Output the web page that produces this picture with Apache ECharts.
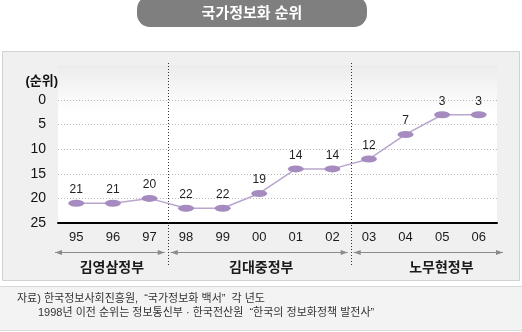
<!DOCTYPE html>
<html><head><meta charset="utf-8">
<script src="https://cdn.jsdelivr.net/npm/echarts@6/dist/echarts.min.js"></script>
<style>html,body{margin:0;padding:0;background:#fff}#c{width:522px;height:332px}</style>
</head><body><div id="c"></div>
<script>
const years = ['95','96','97','98','99','00','01','02','03','04','05','06'];
const ranks = [21,21,20,22,22,19,14,14,12,7,3,3];
const yMin = 0, yMax = 25, yStep = 5;
const governments = ['김영삼정부','김대중정부','노무현정부'];
const govStart = [0,3,8];
const govEnd = [2,7,11];
const titleText = '국가정보화 순위';
const yName = '(순위)';
const notes = ['자료) 한국정보사회진흥원,  “국가정보화 백서”  각 년도', '1998년 이전 순위는 정보통신부 · 한국전산원  “한국의 정보화정책 발전사”'];

const FONT = '"Liberation Sans", Arial, "Noto Sans CJK KR", sans-serif';
const chart = echarts.init(document.getElementById('c'), null, {renderer:'canvas'});
const G = {left:58, right:25, top:100, bottom:109};

chart.setOption({
  animation:false,
  textStyle:{fontFamily:FONT},
  grid:{left:G.left, right:G.right, top:G.top, bottom:G.bottom, containLabel:false},
  xAxis:{type:'category', data:years, boundaryGap:true, position:'bottom',
    axisLine:{onZero:false, lineStyle:{color:'#000', width:2}},
    axisTick:{inside:true, length:5, lineStyle:{color:'#000', width:2}},
    axisLabel:{color:'#1a1a1a', fontSize:13, margin:8, fontFamily:FONT},
    splitLine:{show:false}},
  yAxis:{type:'value', inverse:true, min:yMin, max:yMax, interval:yStep,
    axisLine:{show:false}, axisTick:{show:false},
    axisLabel:{color:'#111', fontSize:14, margin:12, fontFamily:FONT},
    splitLine:{lineStyle:{color:'#b8b8b8', type:[1,2], width:1}}},
  series:[{type:'line', data:ranks, z:5,
    symbol:'path://M0,5 A10,5 0 1,1 20,5 A10,5 0 1,1 0,5 Z', symbolSize:[16,7],
    itemStyle:{color:'#a58bbf'},
    lineStyle:{color:'#b9a6cd', width:1.5},
    label:{show:true, position:'top', distance:4, color:'#222', fontSize:12, fontFamily:FONT}}]
});

const px = i => chart.convertToPixel({xAxisIndex:0}, i);
const bw = px(1) - px(0);
const bound = i => px(i) - bw/2;
const yTop = chart.convertToPixel({yAxisIndex:0}, yMin);
const yBot = chart.convertToPixel({yAxisIndex:0}, yMax);
const gx0 = bound(0), gx1 = bound(years.length);

const g = [];
g.push({type:'rect', z:-10, shape:{x:2.5, y:51.5, width:517, height:229}, style:{fill:'#f0f0f0', stroke:'#d2d2d2', lineWidth:1}});
g.push({type:'rect', z:-9, shape:{x:gx0, y:65, width:gx1-gx0, height:yBot-65},
  style:{fill:new echarts.graphic.LinearGradient(0,0,0,1,[{offset:0,color:'#ececec'},{offset:0.3,color:'#ffffff'},{offset:1,color:'#ffffff'}])}});
g.push({type:'rect', z:-10, shape:{x:-1, y:286.5, width:524, height:44}, style:{fill:'#f3f3f3', stroke:'#d8d8d8', lineWidth:1}});
notes.forEach((t,i)=>g.push({type:'text', x: i===0?17:38, y: i===0?299:313, style:{text:t, fill:'#333', font:'11px '+FONT, textVerticalAlign:'middle'}}));
g.push({type:'rect', shape:{x:137, y:-4, width:230, height:31, r:13}, style:{fill:'#7f7f7f'}});
g.push({type:'text', x:252, y:14, style:{text:titleText, fill:'#fff', font:'bold 15px '+FONT, textAlign:'center', textVerticalAlign:'middle'}});
g.push({type:'text', x:gx0, y:81, style:{text:yName, fill:'#111', font:'bold 13px '+FONT, textAlign:'right', textVerticalAlign:'middle'}});
for (let k=0;k<governments.length-1;k++){
  const x = Math.round(bound(govStart[k+1]))+0.5;
  g.push({type:'line', z:3, shape:{x1:x, y1:63, x2:x, y2:265}, style:{stroke:'#333', lineWidth:1, lineDash:[1,2]}});
}
const AY = 252.5;
governments.forEach((name,k)=>{
  const L = bound(govStart[k]), R = bound(govEnd[k]+1);
  const x1 = k===0 ? L-3 : L+3;
  const x2 = k===governments.length-1 ? R+6 : R-3;
  g.push({type:'line', shape:{x1:x1, y1:AY, x2:x2, y2:AY}, style:{stroke:'#8a8a8a', lineWidth:1}});
  g.push({type:'polygon', shape:{points:[[x1,AY],[x1+7,AY-2.5],[x1+7,AY+2.5]]}, style:{fill:'#8a8a8a'}});
  g.push({type:'polygon', shape:{points:[[x2,AY],[x2-7,AY-2.5],[x2-7,AY+2.5]]}, style:{fill:'#8a8a8a'}});
  const cx = (x1+x2)/2 + (k===governments.length-1 ? 13 : 2);
  g.push({type:'text', x:cx, y:268, style:{text:name, fill:'#1a1a1a', font:'bold 14px '+FONT, textAlign:'center', textVerticalAlign:'middle'}});
});
chart.setOption({graphic:{elements:g}});
</script></body></html>
